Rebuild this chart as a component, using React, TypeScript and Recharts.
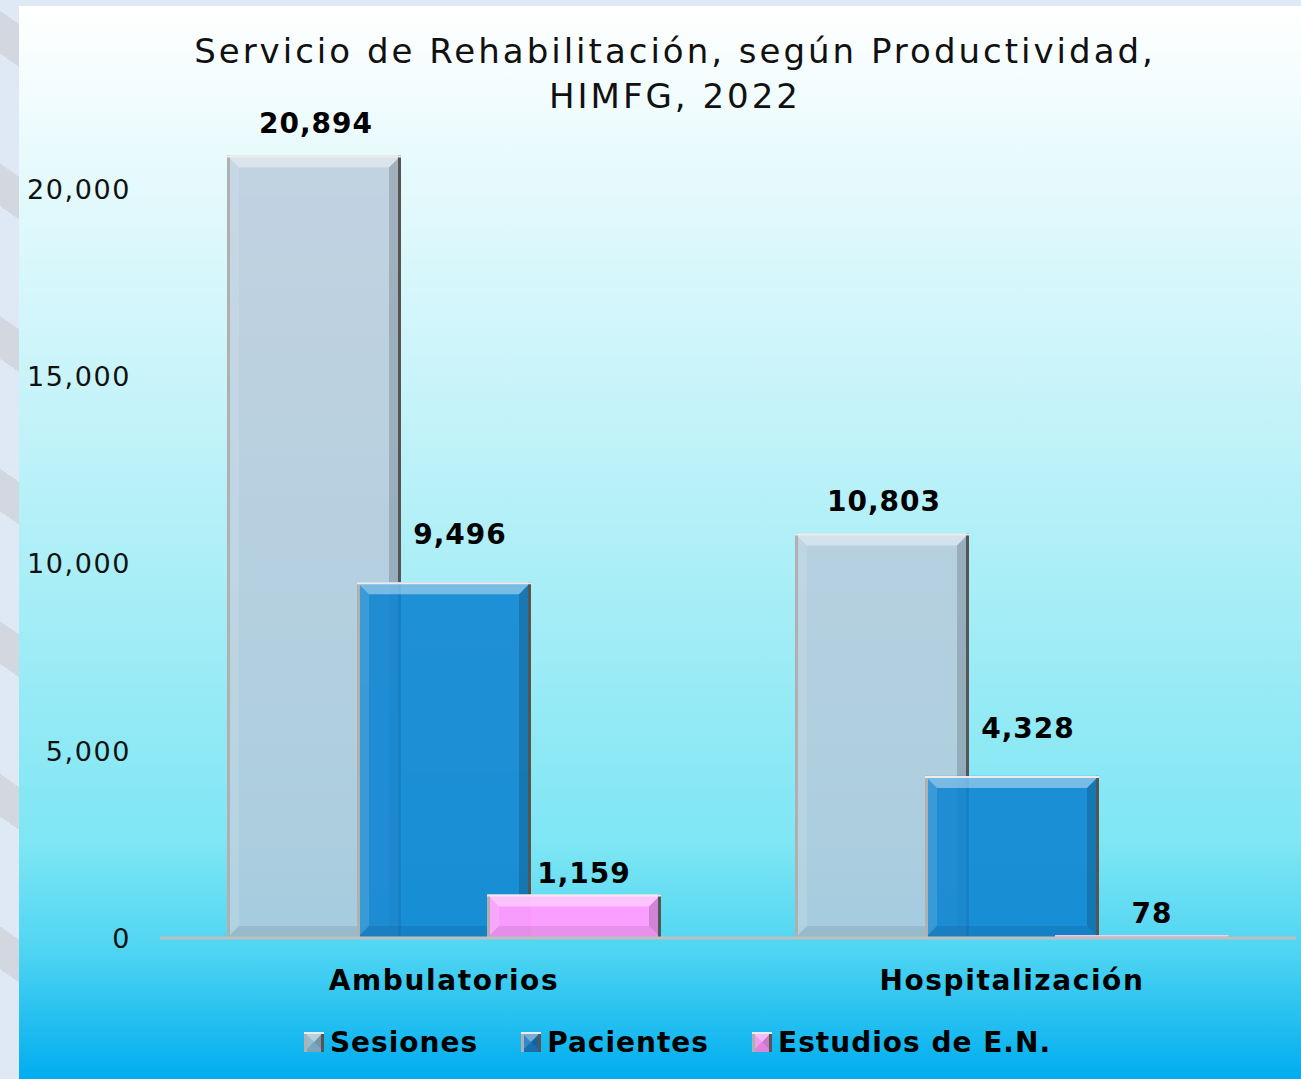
import React from 'react';
import { BarChart, Bar, XAxis, YAxis, Legend, LabelList } from 'recharts';

const categories = ['Ambulatorios', 'Hospitalización'];
const sesiones = [20894, 10803];
const pacientes = [9496, 4328];
const estudios = [1159, 78];
const yTicks = [0, 5000, 10000, 15000, 20000];

const data = categories.map((c, i) => ({
  name: c,
  sesiones: sesiones[i],
  pacientes: pacientes[i],
  estudios: estudios[i],
}));

const FONT = '"DejaVu Sans", sans-serif';

const COLORS = {
  sesiones: { fill: '#b8c8d9', op: 0.8, legend: '#86b4cc' },
  pacientes: { fill: '#0f85d2', op: 0.9, legend: '#1a78c0' },
  estudios: { fill: '#ff9cff', op: 0.97, legend: '#f090f0' },
};

const BevelBar = (props: any) => {
  const { x, y, width, height, fill, fillOpacity } = props;
  if (!(height > 0) || !(width > 0)) return null;
  const b = Math.min(12, height / 2, width / 2);
  const x2 = x + width;
  const y2 = y + height;
  return (
    <g>
      <rect x={x} y={y} width={width} height={height} fill={fill} fillOpacity={fillOpacity} />
      <polygon points={`${x},${y} ${x2},${y} ${x2 - b},${y + b} ${x + b},${y + b}`} fill="#ffffff" fillOpacity={0.4} />
      <polygon points={`${x},${y} ${x + b},${y + b} ${x + b},${y2 - b} ${x},${y2}`} fill="#ffffff" fillOpacity={0.12} />
      <polygon points={`${x2},${y} ${x2},${y2} ${x2 - b},${y2 - b} ${x2 - b},${y + b}`} fill="#000000" fillOpacity={0.16} />
      <polygon points={`${x},${y2} ${x2},${y2} ${x2 - b},${y2 - b} ${x + b},${y2 - b}`} fill="#000000" fillOpacity={0.08} />
      {height > 3 && <line x1={x + 1.5} y1={y} x2={x + 1.5} y2={y2} stroke="#b0b0b0" strokeWidth={3} />}
      {height > 3 && <line x1={x2 - 1.5} y1={y} x2={x2 - 1.5} y2={y2} stroke="#555555" strokeWidth={3} />}
      <line x1={x} y1={y + 1} x2={x2} y2={y + 1} stroke="#ececec" strokeWidth={2} strokeOpacity={height > 3 ? 1 : 0.2} />
    </g>
  );
};

const makeLabel = (dx: number, off: number) => (props: any) => {
  const { x, y, width, value } = props;
  return (
    <text
      x={x + width / 2 + dx}
      y={y - off}
      textAnchor="middle"
      fontFamily={FONT}
      fontWeight="bold"
      fontSize={28}
      letterSpacing={1}
      fill="#000"
    >
      {Number(value).toLocaleString('en-US')}
    </text>
  );
};

const YTick = (props: any) => {
  const { x, y, payload } = props;
  return (
    <text x={x} y={y} dy={10} textAnchor="end" fontFamily={FONT} fontSize={27} letterSpacing={1.6} fill="#111">
      {Number(payload.value).toLocaleString('en-US')}
    </text>
  );
};

const XTick = (props: any) => {
  const { x, y, payload } = props;
  return (
    <text x={x} y={y} dy={44} textAnchor="middle" fontFamily={FONT} fontWeight="bold" fontSize={28} letterSpacing={1.6} fill="#000">
      {payload.value}
    </text>
  );
};

const legendItems = [
  { key: 'sesiones', label: 'Sesiones' },
  { key: 'pacientes', label: 'Pacientes' },
  { key: 'estudios', label: 'Estudios de E.N.' },
];

const LegendContent = () => (
  <div
    style={{
      height: 44,
      display: 'flex',
      justifyContent: 'center',
      alignItems: 'center',
      paddingLeft: 58,
      fontFamily: FONT,
      fontWeight: 'bold',
      fontSize: 28,
      color: '#000',
    }}
  >
    {legendItems.map((it, i) => {
      const c = (COLORS as any)[it.key];
      return (
        <div key={it.key} style={{ display: 'flex', alignItems: 'center', marginLeft: i === 0 ? 0 : 42 }}>
          <svg width={22} height={22} style={{ marginRight: 5 }}>
            <BevelBar x={1} y={1} width={20} height={20} fill={c.legend} fillOpacity={1} />
          </svg>
          <span style={{ letterSpacing: 1 }}>{it.label}</span>
        </div>
      );
    })}
  </div>
);

export default function App() {
  return (
    <div
      style={{
        position: 'absolute',
        left: 0,
        top: 0,
        width: 1301,
        height: 1079,
        overflow: 'hidden',
        background:
          'repeating-linear-gradient(35deg, #dee9f5 0px, #dee9f5 90px, #d3d8e0 90px, #d3d8e0 125px)',
      }}
    >
      <div style={{ position: 'absolute', left: 19, top: 0, right: 0, height: 6, background: '#dfe9f5' }} />
      <div
        style={{
          position: 'absolute',
          left: 19,
          top: 6,
          right: 0,
          bottom: 0,
          background:
            'linear-gradient(to bottom, #ffffff 0%, #e2f9fc 18%, #c4f3f9 38%, #9eecf6 60%, #7ee6f4 78%, #4fd5f2 88%, #00adef 100%)',
        }}
      />
      <div
        style={{
          position: 'absolute',
          left: 0,
          top: 29,
          width: 1350,
          textAlign: 'center',
          fontFamily: FONT,
          fontSize: 34,
          lineHeight: '45px',
          letterSpacing: 3,
          color: '#111',
        }}
      >
        Servicio de Rehabilitación, según Productividad,
        <br />
        HIMFG, 2022
      </div>
      <div style={{ position: 'absolute', left: 0, top: 0 }}>
        <BarChart
          width={1301}
          height={1079}
          data={data}
          margin={{ top: 114, right: 5, left: 0, bottom: 15 }}
          barSize={174}
          barGap={-44}
        >
          <XAxis
            dataKey="name"
            height={82}
            axisLine={{ stroke: '#bfbfbf', strokeWidth: 3 }}
            tickLine={false}
            tick={<XTick />}
            interval={0}
          />
          <YAxis
            width={160}
            domain={[0, 22000]}
            ticks={yTicks}
            axisLine={false}
            tickLine={false}
            tickMargin={23}
            tick={<YTick />}
          />
          <Legend verticalAlign="bottom" content={<LegendContent />} />
          <Bar dataKey="sesiones" fill={COLORS.sesiones.fill} fillOpacity={COLORS.sesiones.op} shape={<BevelBar />} isAnimationActive={false}>
            <LabelList dataKey="sesiones" content={makeLabel(2, 22)} />
          </Bar>
          <Bar dataKey="pacientes" fill={COLORS.pacientes.fill} fillOpacity={COLORS.pacientes.op} shape={<BevelBar />} isAnimationActive={false}>
            <LabelList dataKey="pacientes" content={makeLabel(16, 38)} />
          </Bar>
          <Bar dataKey="estudios" fill={COLORS.estudios.fill} fillOpacity={COLORS.estudios.op} shape={<BevelBar />} isAnimationActive={false}>
            <LabelList dataKey="estudios" content={makeLabel(10, 12)} />
          </Bar>
        </BarChart>
      </div>
    </div>
  );
}
